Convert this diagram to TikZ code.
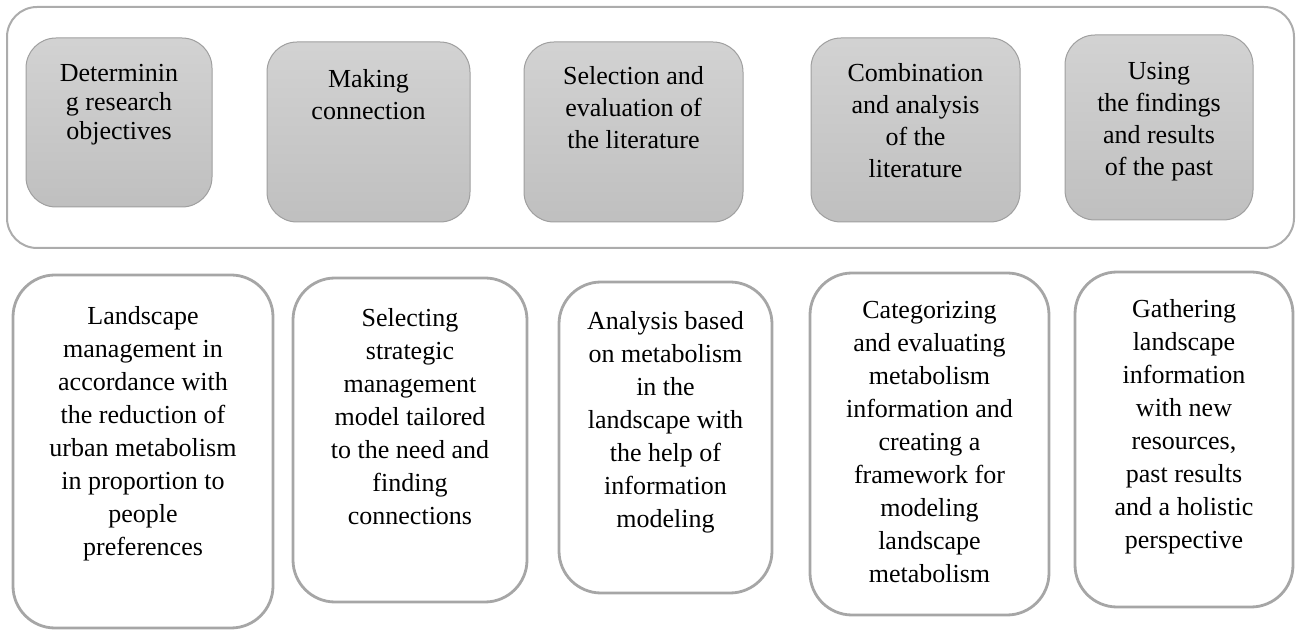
\documentclass[tikz,border=0pt]{standalone}
\usepackage{fontspec}
\setmainfont{Liberation Serif}
\usetikzlibrary{positioning}

\begin{document}
\begin{tikzpicture}[x=0.5pt, y=-0.5pt,
    frame/.style={draw=gray!65, line width=1pt, rounded corners=15pt},
    stepbox/.style={draw=gray!75, line width=0.5pt, rounded corners=15pt,
                    top color=gray!35, bottom color=gray!50},
    taskbox/.style={draw=gray!70, line width=1.4pt, rounded corners=21pt, fill=white},
    steptext/.style={inner sep=0pt, align=center, font=\fontsize{13}{16}\selectfont},
    tasktext/.style={inner sep=0pt, align=center, font=\fontsize{13}{16.5}\selectfont}]

    \useasboundingbox (0,0) rectangle (1296,630);

    % Marco superior
    \node[frame, minimum width=643.5pt, minimum height=120.5pt] (frame) at (650.5,127.5) {};

    % Pasos (fila superior)
    \node[stepbox, minimum width=93pt, minimum height=84.5pt] (objectives) at (119,122.5) {};
    \node[stepbox, minimum width=101.5pt, minimum height=90pt] (connection) at (368.5,132) {};
    \node[stepbox, minimum width=109.5pt, minimum height=90pt] (selection) at (633.5,132) {};
    \node[stepbox, minimum width=104.5pt, minimum height=92pt] (combination) at (915.5,130) {};
    \node[stepbox, minimum width=94pt, minimum height=92.5pt] (findings) at (1159,127.5) {};

    \node[steptext, font=\fontsize{13}{14.5}\selectfont, below=13pt of objectives.north] (objectivesText)
          {Determinin\\g research\\objectives};
    \node[steptext, below=14pt of connection.north] (connectionText) {Making\\connection};
    \node[steptext, below=12.5pt of selection.north] (selectionText)
          {Selection and\\evaluation of\\the literature};
    \node[steptext, below=13pt of combination.north] (combinationText)
          {Combination\\and analysis\\of the\\literature};
    \node[steptext, below=13.5pt of findings.north] (findingsText)
          {Using\\the findings\\and results\\of the past};

    % Tareas (fila inferior)
    \node[taskbox, minimum width=130pt, minimum height=176.5pt] (management) at (143,451.5) {};
    \node[taskbox, minimum width=117pt, minimum height=162pt] (strategy) at (410,440) {};
    \node[taskbox, minimum width=106.5pt, minimum height=155.5pt] (analysis) at (665.5,437.5) {};
    \node[taskbox, minimum width=119.5pt, minimum height=171pt] (framework) at (929.5,444) {};
    \node[taskbox, minimum width=109pt, minimum height=167.5pt] (gathering) at (1184,439.5) {};

    \node[tasktext, below=16pt of management.north] (managementText)
          {Landscape\\management in\\accordance with\\the reduction of\\urban metabolism\\in proportion to\\people\\preferences};
    \node[tasktext, below=15.5pt of strategy.north] (strategyText)
          {Selecting\\strategic\\management\\model tailored\\to the need and\\finding\\connections};
    \node[tasktext, below=15pt of analysis.north] (analysisText)
          {Analysis based\\on metabolism\\in the\\landscape with\\the help of\\information\\modeling};
    \node[tasktext, below=14.5pt of framework.north] (frameworkText)
          {Categorizing\\and evaluating\\metabolism\\information and\\creating a\\framework for\\modeling\\landscape\\metabolism};
    \node[tasktext, below=14pt of gathering.north] (gatheringText)
          {Gathering\\landscape\\information\\with new\\resources,\\past results\\and a holistic\\perspective};
\end{tikzpicture}
\end{document}
